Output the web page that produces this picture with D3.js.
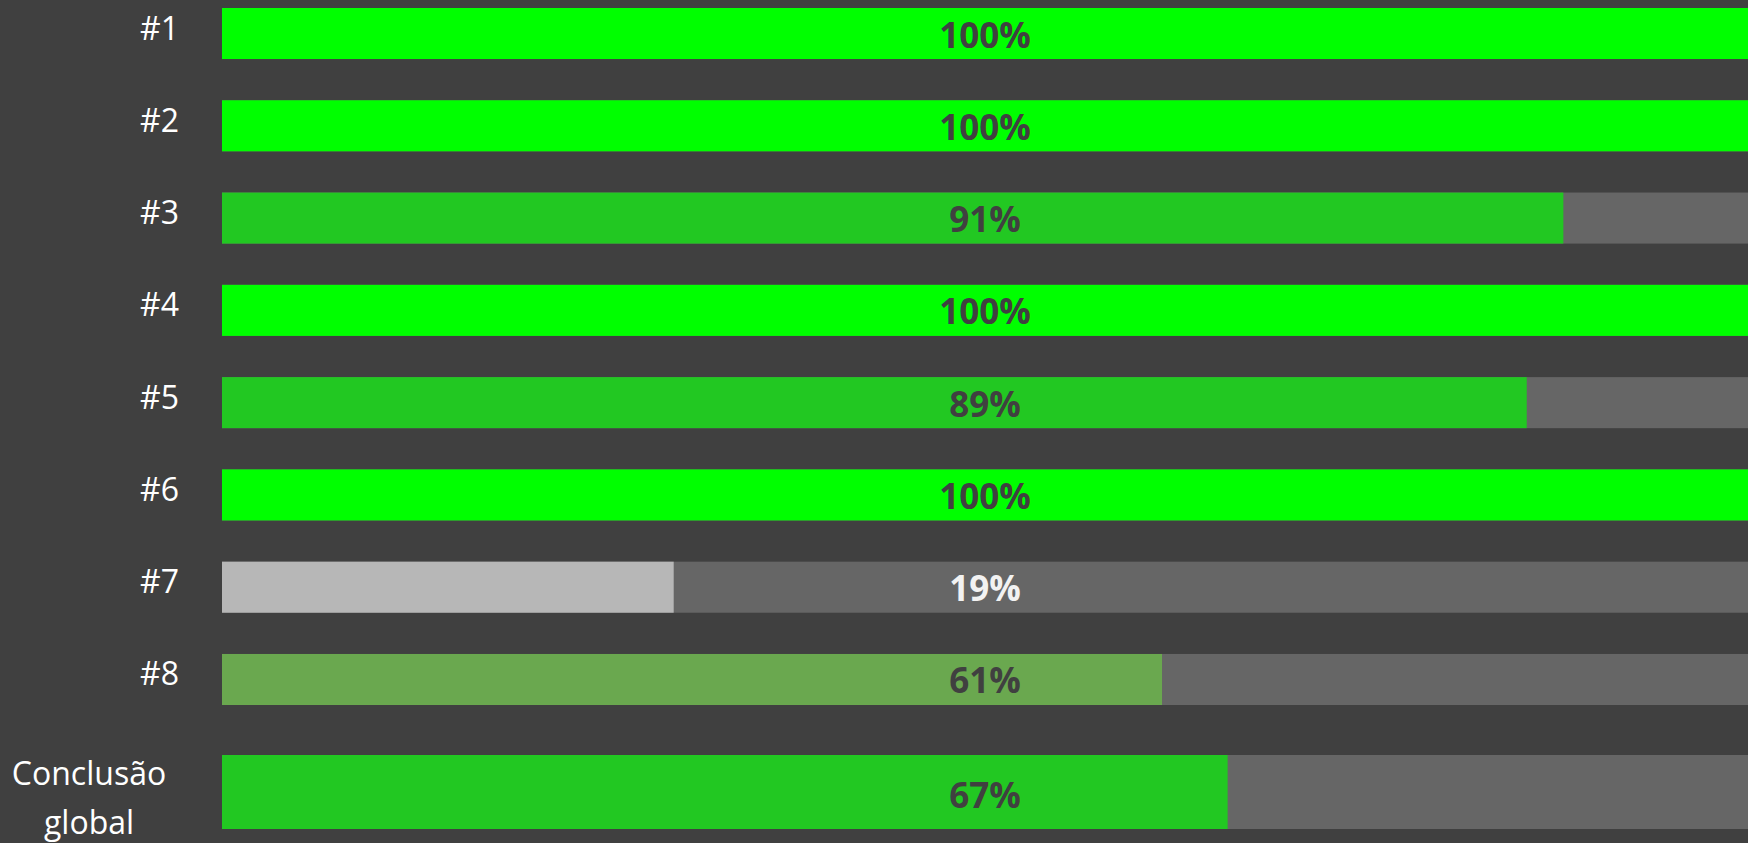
<!DOCTYPE html>
<html>
<head>
<meta charset="utf-8">
<script src="https://cdn.jsdelivr.net/npm/d3@7"></script>
<style>
  html, body { margin: 0; padding: 0; background: #404040; }
  svg { display: block; }
</style>
</head>
<body>
<div id="chart"></div>
<script>
'use strict';

// rows of the chart
const categories = ['#1', '#2', '#3', '#4', '#5', '#6', '#7', '#8'];
// filled share of each bar (0..1)
const barValues = [1, 1, 0.879, 1, 0.855, 1, 0.296, 0.616];
// percentage printed on each bar
const pctLabels = [100, 100, 91, 100, 89, 100, 19, 61];

// the separate "overall" bar at the bottom
const globalLabel = ['Conclusão', 'global'];
const globalValue = 0.659;
const globalPct = 67;

const width = 1748;
const height = 843;

const svg = d3.select('#chart')
    .append('svg')
    .attr('width', width)
    .attr('height', height)
    .style('font-family', '"Open Sans", "Noto Sans", sans-serif');

svg.append('rect')
    .attr('width', width)
    .attr('height', height)
    .attr('fill', '#404040');

const x = d3.scaleLinear()
    .domain([0, 1])
    .range([222, 1748]);

const y = d3.scaleBand()
    .domain(categories)
    .range([8, 705])
    .paddingInner(0.447)
    .paddingOuter(0);

const yGlobal = d3.scaleBand()
    .domain(['global'])
    .range([755, 829]);

// bar colour depends on the percentage
const color = d3.scaleThreshold()
    .domain([50, 65, 100])
    .range(['#b7b7b7', '#6aa84f', '#22c822', '#00ff00']);

const textColor = d3.scaleThreshold()
    .domain([50])
    .range(['#f2f2f2', '#404040']);

const fmt = d => d3.format('d')(d) + '%';

const rows = categories.map((c, i) => ({ name: c, value: barValues[i], pct: pctLabels[i] }));

// track bars (grey background)
svg.selectAll('rect.track')
    .data(rows)
    .enter()
    .append('rect')
    .attr('class', 'track')
    .attr('x', x(0))
    .attr('y', d => y(d.name))
    .attr('width', x(1) - x(0))
    .attr('height', y.bandwidth())
    .attr('fill', '#666666');

svg.selectAll('rect.bar')
    .data(rows)
    .enter()
    .append('rect')
    .attr('class', 'bar')
    .attr('x', x(0))
    .attr('y', d => y(d.name))
    .attr('width', d => x(d.value) - x(0))
    .attr('height', y.bandwidth())
    .attr('fill', d => color(d.pct));

svg.selectAll('text.pct')
    .data(rows)
    .enter()
    .append('text')
    .attr('class', 'pct')
    .attr('x', x(0.5))
    .attr('y', d => y(d.name) + y.bandwidth() / 2 + 14)
    .attr('text-anchor', 'middle')
    .attr('font-size', 35)
    .attr('font-weight', 'bold')
    .attr('fill', d => textColor(d.pct))
    .text(d => fmt(d.pct));

svg.selectAll('text.cat')
    .data(rows)
    .enter()
    .append('text')
    .attr('class', 'cat')
    .attr('x', 179)
    .attr('y', d => y(d.name) + y.bandwidth() / 2 + 6)
    .attr('text-anchor', 'end')
    .attr('font-size', 32)
    .attr('fill', '#ffffff')
    .text(d => d.name);

// overall bar
const gy = yGlobal('global');
const gh = yGlobal.bandwidth();

svg.append('rect')
    .attr('x', x(0))
    .attr('y', gy)
    .attr('width', x(1) - x(0))
    .attr('height', gh)
    .attr('fill', '#666666');

svg.append('rect')
    .attr('x', x(0))
    .attr('y', gy)
    .attr('width', x(globalValue) - x(0))
    .attr('height', gh)
    .attr('fill', color(globalPct));

svg.append('text')
    .attr('x', x(0.5))
    .attr('y', gy + gh / 2 + 16)
    .attr('text-anchor', 'middle')
    .attr('font-size', 35)
    .attr('font-weight', 'bold')
    .attr('fill', textColor(globalPct))
    .text(fmt(globalPct));

svg.append('text')
    .attr('x', 89)
    .attr('y', gy + gh / 2 - 7)
    .attr('text-anchor', 'middle')
    .attr('font-size', 32)
    .attr('fill', '#ffffff')
    .selectAll('tspan')
    .data(globalLabel)
    .enter()
    .append('tspan')
    .attr('x', 89)
    .attr('dy', (d, i) => i === 0 ? 0 : 49)
    .text(d => d);
</script>
</body>
</html>
